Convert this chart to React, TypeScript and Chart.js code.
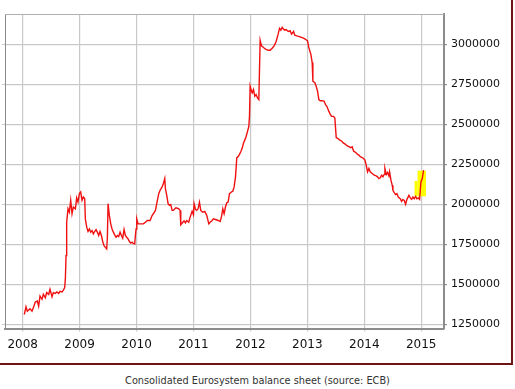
import { useEffect, useRef } from 'react';
import { Chart, registerables } from 'chart.js';

Chart.register(...registerables);

// Weekly observation dates (decimal years)
const dates: number[] = [
  2008.029, 2008.059, 2008.082, 2008.129, 2008.164, 2008.187, 2008.223, 2008.258, 2008.281, 2008.305,
  2008.340, 2008.363, 2008.398, 2008.422, 2008.457, 2008.480, 2008.516, 2008.539, 2008.574, 2008.598,
  2008.633, 2008.656, 2008.691, 2008.715, 2008.738, 2008.750, 2008.762, 2008.773, 2008.797, 2008.820,
  2008.844, 2008.867, 2008.890, 2008.926, 2008.949, 2008.972, 2008.996, 2009.019, 2009.043, 2009.066,
  2009.090, 2009.101, 2009.125, 2009.148, 2009.172, 2009.195, 2009.219, 2009.242, 2009.265, 2009.289,
  2009.312, 2009.336, 2009.359, 2009.383, 2009.406, 2009.429, 2009.453, 2009.476, 2009.488, 2009.500,
  2009.523, 2009.547, 2009.570, 2009.593, 2009.617, 2009.640, 2009.664, 2009.687, 2009.711, 2009.734,
  2009.757, 2009.781, 2009.804, 2009.828, 2009.851, 2009.875, 2009.898, 2009.922, 2009.945, 2009.968,
  2009.980, 2009.992, 2010.004, 2010.027, 2010.062, 2010.121, 2010.156, 2010.191, 2010.238, 2010.273,
  2010.296, 2010.332, 2010.355, 2010.390, 2010.414, 2010.449, 2010.472, 2010.496, 2010.507, 2010.531,
  2010.554, 2010.578, 2010.601, 2010.625, 2010.648, 2010.683, 2010.707, 2010.742, 2010.765, 2010.777,
  2010.812, 2010.835, 2010.859, 2010.882, 2010.917, 2010.941, 2010.976, 2010.999, 2011.011, 2011.035,
  2011.058, 2011.081, 2011.105, 2011.128, 2011.163, 2011.199, 2011.234, 2011.269, 2011.292, 2011.328,
  2011.351, 2011.386, 2011.433, 2011.468, 2011.491, 2011.515, 2011.538, 2011.562, 2011.585, 2011.609,
  2011.632, 2011.667, 2011.691, 2011.714, 2011.738, 2011.761, 2011.784, 2011.808, 2011.831, 2011.855,
  2011.878, 2011.902, 2011.925, 2011.948, 2011.972, 2011.984, 2011.995, 2012.019, 2012.031, 2012.054,
  2012.077, 2012.101, 2012.124, 2012.148, 2012.171, 2012.195, 2012.230, 2012.265, 2012.312, 2012.347,
  2012.382, 2012.417, 2012.452, 2012.487, 2012.511, 2012.534, 2012.558, 2012.581, 2012.605, 2012.628,
  2012.651, 2012.675, 2012.698, 2012.722, 2012.745, 2012.757, 2012.780, 2012.815, 2012.874, 2012.933,
  2012.968, 2013.003, 2013.026, 2013.062, 2013.085, 2013.097, 2013.132, 2013.155, 2013.179, 2013.202,
  2013.226, 2013.261, 2013.296, 2013.319, 2013.343, 2013.378, 2013.401, 2013.425, 2013.460, 2013.483,
  2013.507, 2013.530, 2013.565, 2013.600, 2013.636, 2013.671, 2013.694, 2013.729, 2013.764, 2013.788,
  2013.811, 2013.846, 2013.882, 2013.905, 2013.929, 2013.964, 2013.987, 2014.011, 2014.034, 2014.057,
  2014.081, 2014.104, 2014.139, 2014.175, 2014.210, 2014.233, 2014.257, 2014.280, 2014.303, 2014.327,
  2014.350, 2014.362, 2014.386, 2014.409, 2014.432, 2014.444, 2014.468, 2014.491, 2014.503, 2014.526,
  2014.550, 2014.573, 2014.596, 2014.631, 2014.655, 2014.678, 2014.702, 2014.725, 2014.749, 2014.784,
  2014.807, 2014.831, 2014.854, 2014.877, 2014.901, 2014.924, 2014.948, 2014.971, 2014.995, 2015.018,
  2015.041,
];

// Consolidated balance sheet total (EUR million)
const values: number[] = [
  1310000, 1358000, 1331000, 1346000, 1331000, 1352000, 1388000, 1394000, 1363000, 1426000,
  1405000, 1436000, 1415000, 1447000, 1436000, 1468000, 1421000, 1447000, 1442000, 1451000,
  1442000, 1455000, 1451000, 1463000, 1478000, 1531000, 1678000, 1887000, 1971000, 1950000,
  2024000, 1940000, 1982000, 1971000, 2039000, 2013000, 2066000, 2076000, 2024000, 2045000,
  2034000, 1908000, 1856000, 1829000, 1845000, 1825000, 1835000, 1814000, 1829000, 1841000,
  1825000, 1804000, 1829000, 1804000, 1766000, 1741000, 1730000, 1720000, 1793000, 2003000,
  1929000, 1877000, 1845000, 1825000, 1808000, 1793000, 1804000, 1797000, 1825000, 1804000,
  1787000, 1841000, 1804000, 1793000, 1783000, 1766000, 1757000, 1762000, 1753000, 1751000,
  1804000, 1845000, 1908000, 1877000, 1877000, 1877000, 1887000, 1898000, 1898000, 1929000,
  1940000, 1961000, 2003000, 2066000, 2087000, 2108000, 2129000, 2160000, 2097000, 2055000,
  2003000, 1992000, 1997000, 1961000, 1961000, 1976000, 1976000, 1971000, 1961000, 1871000,
  1887000, 1896000, 1883000, 1898000, 1887000, 1919000, 1955000, 1934000, 2003000, 1967000,
  1961000, 1971000, 2013000, 1961000, 1950000, 1955000, 1929000, 1877000, 1887000, 1898000,
  1908000, 1904000, 1898000, 1892000, 1919000, 1971000, 1940000, 1982000, 2009000, 2013000,
  2066000, 2076000, 2081000, 2108000, 2171000, 2291000, 2297000, 2311000, 2328000, 2349000,
  2381000, 2402000, 2423000, 2454000, 2486000, 2549000, 2738000, 2706000, 2696000, 2717000,
  2675000, 2685000, 2664000, 2654000, 3025000, 2990000, 2979000, 2969000, 2962000, 2962000,
  2975000, 2990000, 3017000, 3063000, 3099000, 3088000, 3105000, 3094000, 3088000, 3092000,
  3084000, 3080000, 3084000, 3063000, 3073000, 3080000, 3057000, 3052000, 3046000, 3038000,
  3031000, 3021000, 2979000, 2937000, 2885000, 2769000, 2759000, 2738000, 2706000, 2654000,
  2647000, 2647000, 2643000, 2622000, 2612000, 2580000, 2563000, 2549000, 2549000, 2538000,
  2416000, 2412000, 2402000, 2395000, 2381000, 2374000, 2366000, 2360000, 2353000, 2358000,
  2332000, 2324000, 2311000, 2307000, 2297000, 2291000, 2286000, 2276000, 2244000, 2202000,
  2223000, 2202000, 2192000, 2181000, 2177000, 2171000, 2160000, 2165000, 2181000, 2171000,
  2186000, 2223000, 2186000, 2198000, 2177000, 2202000, 2150000, 2118000, 2087000, 2072000,
  2060000, 2066000, 2045000, 2034000, 2018000, 2030000, 2024000, 1999000, 2030000, 2055000,
  2039000, 2030000, 2045000, 2034000, 2049000, 2034000, 2039000, 2030000, 2139000, 2160000,
  2213000,
];

const yearTicks: number[] = [2008, 2009, 2010, 2011, 2012, 2013, 2014, 2015];
const valueTicks: number[] = [1250000, 1500000, 1750000, 2000000, 2250000, 2500000, 2750000, 3000000];
const xRange: number[] = [2007.69, 2015.4];
const yRange: number[] = [1222000, 3189000];

// Yellow highlighter over the latest weeks
const highlightX: number[] = [2014.936, 2015.083];
const highlightY: number[] = [2049000, 2209000];
const notchX: number[] = [2014.883, 2014.936];
const notchY: number[] = [2049000, 2145000];

const GRID = '#c9c9c9';
const AXIS = '#8c8c8c';

export default function App() {
  const ref = useRef<HTMLCanvasElement>(null);

  useEffect(() => {
    const highlightPlugin = {
      id: 'highlight',
      beforeDatasetsDraw(chart: any) {
        const { ctx, scales } = chart;
        const x = scales.x;
        const y = scales.y;
        ctx.save();
        ctx.fillStyle = '#ffff00';
        const rect = (xs: number[], ys: number[]) => {
          const x0 = x.getPixelForValue(xs[0]);
          const x1 = x.getPixelForValue(xs[1]);
          const y0 = y.getPixelForValue(ys[1]);
          const y1 = y.getPixelForValue(ys[0]);
          ctx.fillRect(x0, y0, x1 - x0, y1 - y0);
        };
        rect(highlightX, highlightY);
        rect(notchX, notchY);
        ctx.restore();
      },
    };
    const framePlugin = {
      id: 'frame',
      beforeDatasetsDraw(chart: any) {
        const { ctx, chartArea } = chart;
        ctx.save();
        ctx.strokeStyle = '#b0b0b0';
        ctx.lineWidth = 1;
        ctx.beginPath();
        ctx.moveTo(chartArea.left, chartArea.top + 0.5);
        ctx.lineTo(chartArea.right, chartArea.top + 0.5);
        ctx.stroke();
        ctx.restore();
      },
    };

    const chart = new Chart(ref.current!, {
      type: 'line',
      data: {
        datasets: [
          {
            data: dates.map((d, i) => ({ x: d, y: values[i] })),
            borderColor: '#f01010',
            borderWidth: 1.4,
            pointRadius: 0,
            tension: 0,
            fill: false,
          },
        ],
      },
      options: {
        responsive: false,
        animation: false,
        devicePixelRatio: 1,
        layout: { padding: { left: 2, top: 14, right: 6, bottom: 2 } },
        plugins: { legend: { display: false }, tooltip: { enabled: false }, title: { display: false } },
        scales: {
          x: {
            type: 'linear',
            position: 'bottom',
            min: xRange[0],
            max: xRange[1],
            afterBuildTicks: (s: any) => { s.ticks = yearTicks.map((v) => ({ value: v })); },
            grid: { color: GRID, lineWidth: 1.2, tickLength: 3, tickColor: GRID },
            border: { color: AXIS, width: 2 },
            ticks: {
              padding: 6.5,
              color: '#111',
              font: { family: '"DejaVu Sans", sans-serif', size: 12 },
              maxRotation: 0,
              callback: (v: any) => String(v),
            },
          },
          y: {
            type: 'linear',
            position: 'right',
            min: yRange[0],
            max: yRange[1],
            afterBuildTicks: (s: any) => { s.ticks = valueTicks.map((v) => ({ value: v })); },
            grid: { color: GRID, lineWidth: 1.2, tickLength: 3, tickColor: AXIS },
            border: { color: AXIS, width: 2 },
            ticks: {
              padding: 4,
              color: '#111',
              font: { family: '"DejaVu Sans", sans-serif', size: 11 },
              callback: (v: any) => String(v),
            },
          },
          yl: {
            type: 'linear',
            position: 'left',
            min: yRange[0],
            max: yRange[1],
            afterBuildTicks: (s: any) => { s.ticks = valueTicks.map((v) => ({ value: v })); },
            grid: { drawOnChartArea: false, tickLength: 3, tickColor: GRID, color: GRID },
            border: { color: AXIS, width: 1 },
            ticks: { display: false },
          },
        },
      },
      plugins: [highlightPlugin, framePlugin],
    } as any);
    return () => chart.destroy();
  }, []);

  return (
    <div style={{ position: 'fixed', left: 0, top: 0, width: 515, height: 389, background: '#fff', overflow: 'hidden' }}>
      <div
        style={{
          position: 'absolute', left: 0, top: 0, width: 511, height: 363,
          borderRight: '2px solid #6e1414', borderBottom: '2px solid #6e1414',
        }}
      />
      <canvas ref={ref} width={510} height={361} style={{ position: 'absolute', left: 0, top: 0, display: 'block' }} />
      <div
        style={{
          position: 'absolute', left: 0, top: 375, width: 515, textAlign: 'center',
          fontFamily: '"DejaVu Sans", sans-serif', fontSize: 9.75, lineHeight: '12px', color: '#333',
        }}
      >
        Consolidated Eurosystem balance sheet (source: ECB)
      </div>
    </div>
  );
}
